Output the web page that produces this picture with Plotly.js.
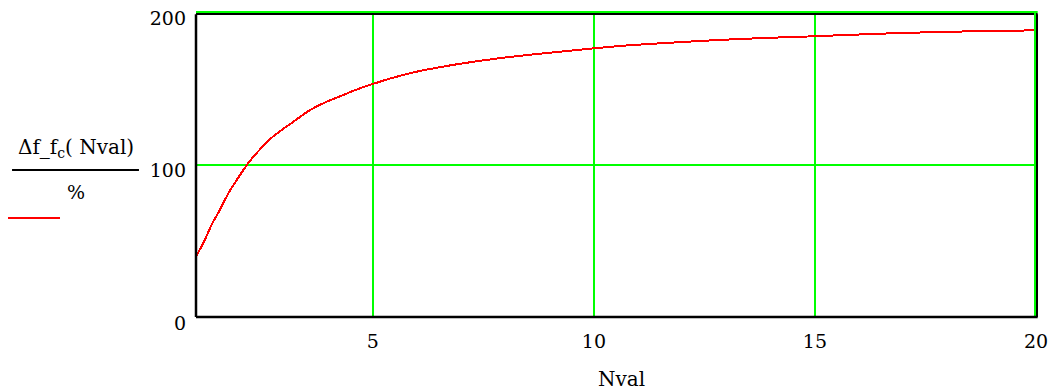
<!DOCTYPE html>
<html>
<head>
<meta charset="utf-8">
<script src="https://cdn.plot.ly/plotly-3.0.1.min.js"></script>
<style>
html, body { margin: 0; padding: 0; background: #fff; }
#chart { width: 1055px; height: 391px; }
.scatterlayer path.js-line { shape-rendering: crispEdges; }
</style>
</head>
<body>
<div id="chart"></div>
<script>
// Data
const nval = [1, 1.2, 1.35, 1.54, 1.73, 1.92, 2.18, 2.45, 2.75, 3.2, 3.58, 3.96, 4.33, 4.71, 5, 5.35, 5.92, 6.67, 7.43, 8.18, 8.93, 9.69, 10, 10.67, 11.35, 12.1, 12.93, 14, 15, 16.5, 18.1, 20];
const dfPct = [39.5, 50.5, 60.3, 70.2, 81, 89.8, 100.8, 110, 118.5, 128, 135.7, 141.2, 145.6, 150, 152.8, 156, 160.4, 164.6, 168, 170.8, 173.1, 175.3, 176.2, 177.9, 179.2, 180.5, 181.8, 183.1, 184.1, 185.8, 187.1, 188];
const xTicks = [5, 10, 15, 20];
const yTicks = [0, 100, 200];
const xLabel = 'Nval';
const yNumerator = 'Δf_f<sub>c</sub>( Nval)';
const yDenominator = '%';

const FONT = 'DejaVu Serif';
const GREEN = '#00ff00';

const trace = {
  x: nval, y: dfPct, type: 'scatter', mode: 'lines',
  line: { color: '#ff0000', width: 2, shape: 'spline', smoothing: 0.8 },
  hoverinfo: 'skip', showlegend: false
};

const layout = {
  width: 1055, height: 391,
  margin: { l: 196, r: 19, t: 12, b: 74 },
  paper_bgcolor: '#fff', plot_bgcolor: '#fff',
  font: { family: FONT, size: 19, color: '#000' },
  xaxis: {
    range: [1, 20], tickvals: xTicks, ticktext: xTicks.map(String),
    showgrid: true, gridcolor: GREEN, gridwidth: 2,
    zeroline: false, showline: false, ticks: '',
    ticklabelstandoff: 11,
    tickfont: { family: FONT, size: 19, color: '#000' }
  },
  yaxis: {
    range: [0, 200], tickvals: yTicks, ticktext: yTicks.map(String),
    showgrid: true, gridcolor: GREEN, gridwidth: 2,
    zeroline: false, showline: false, ticks: '',
    ticklabelstandoff: 9, ticklabelshift: 6,
    tickfont: { family: FONT, size: 19, color: '#000' }
  },
  shapes: [
    { type: 'line', xref: 'paper', yref: 'paper', x0: 0, x1: 1.002, y0: 1, y1: 1, line: { color: GREEN, width: 2 } },
    { type: 'line', xref: 'paper', yref: 'paper', ysizemode: 'pixel', yanchor: 1, x0: 0, x1: 1.002, y0: -2, y1: -2, line: { color: '#000', width: 2 } },
    { type: 'line', xref: 'paper', yref: 'paper', xsizemode: 'pixel', xanchor: 1, x0: -1, x1: -1, y0: 0, y1: 1, line: { color: GREEN, width: 2 } },
    { type: 'line', xref: 'paper', yref: 'paper', xsizemode: 'pixel', xanchor: 1, x0: 1, x1: 1, y0: 0, y1: 0.993, line: { color: '#000', width: 2 } },
    { type: 'line', xref: 'paper', yref: 'paper', x0: 0, x1: 0, y0: 0, y1: 0.993, line: { color: '#000', width: 2.5 } },
    { type: 'line', xref: 'paper', yref: 'paper', x0: 0, x1: 1.002, y0: 0, y1: 0, line: { color: '#000', width: 2.5 } },
    { type: 'line', xref: 'paper', yref: 'paper', x0: -0.219, x1: -0.0679, y0: 0.482, y1: 0.482, line: { color: '#000', width: 2 } },
    { type: 'line', xref: 'paper', yref: 'paper', x0: -0.2238, x1: -0.1619, y0: 0.3246, y1: 0.3246, line: { color: '#ff0000', width: 2 } }
  ],
  annotations: [
    { xref: 'paper', yref: 'paper', x: 0.506, y: -0.203, xanchor: 'center', yanchor: 'middle', showarrow: false,
      text: xLabel, font: { family: FONT, size: 20, color: '#000' } },
    { xref: 'paper', yref: 'paper', x: -0.1429, y: 0.554, xanchor: 'center', yanchor: 'middle', showarrow: false,
      text: yNumerator, font: { family: FONT, size: 20, color: '#000' } },
    { xref: 'paper', yref: 'paper', x: -0.1429, y: 0.41, xanchor: 'center', yanchor: 'middle', showarrow: false,
      text: yDenominator, font: { family: FONT, size: 19, color: '#000' } }
  ]
};

Plotly.newPlot('chart', [trace], layout, { staticPlot: true, displayModeBar: false });
</script>
</body>
</html>
